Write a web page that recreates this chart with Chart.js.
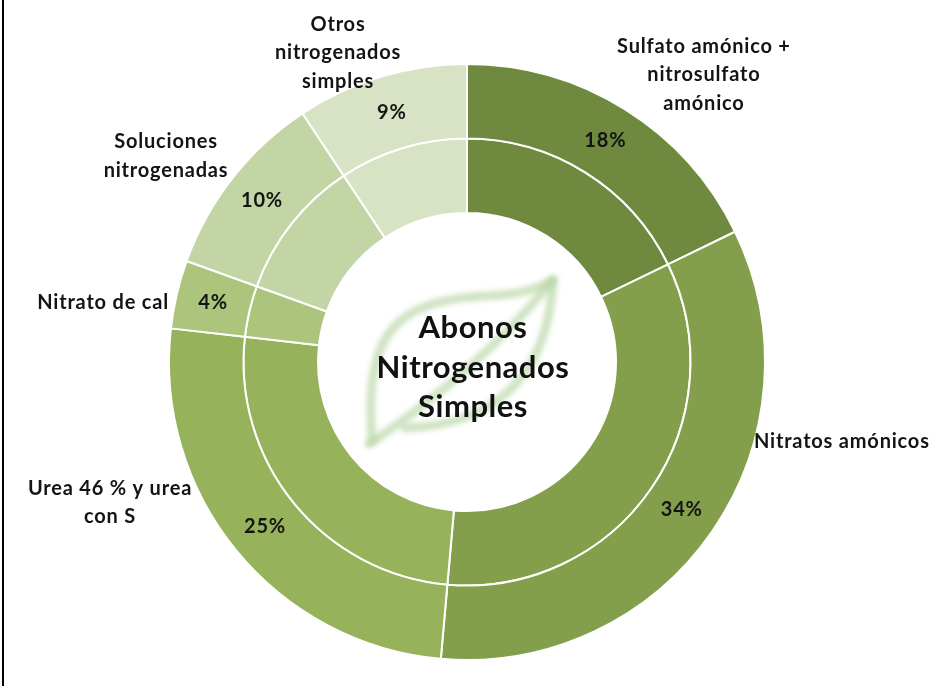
<!DOCTYPE html>
<html>
<head>
<meta charset="utf-8">
<script src="https://cdn.jsdelivr.net/npm/chart.js@4.4.1/dist/chart.umd.min.js"></script>
<style>
  html, body { margin: 0; padding: 0; background: #fff; }
  #wrap { position: relative; width: 937px; height: 686px; }
  #frame { position: absolute; left: 2px; top: 0; width: 2px; height: 686px; background: #000; }
  canvas { display: block; }
</style>
</head>
<body>
<div id="wrap">
  <canvas id="c" width="937" height="686"></canvas>
  <div id="frame"></div>
</div>
<script>
// ---- Data ----
const categories = [
  'Sulfato amónico + nitrosulfato amónico',
  'Nitratos amónicos',
  'Urea 46 % y urea con S',
  'Nitrato de cal',
  'Soluciones nitrogenadas',
  'Otros nitrogenados simples'
];
const categoryLines = [
  ['Sulfato amónico +', 'nitrosulfato', 'amónico'],
  ['Nitratos amónicos'],
  ['Urea 46 % y urea', 'con S'],
  ['Nitrato de cal'],
  ['Soluciones', 'nitrogenadas'],
  ['Otros', 'nitrogenados', 'simples']
];
// shares (%); labels show them rounded
const shares = [17.8, 33.6, 25.4, 3.7, 10.2, 9.3];
const centerTitle = ['Abonos', 'Nitrogenados', 'Simples'];

// ---- Styles / layout ----
const sliceColors = ['#6F8A3F', '#839F4B', '#96B25A', '#ACC47B', '#C3D4A5', '#D8E2C5'];
// label anchor offsets relative to chart centre, in units of the outer radius
const labelOffsets = [
  [0.795, -0.963],
  [1.258, 0.268],
  [-1.198, 0.471],
  [-1.221, -0.198],
  [-1.010, -0.691],
  [-0.433, -1.037]
];
const FONT = 'Lato, "Open Sans", "DejaVu Sans", sans-serif';

const labelPlugin = {
  id: 'labels',
  afterDatasetsDraw(chart) {
    const ctx = chart.ctx;
    const arcs = chart.getDatasetMeta(0).data;
    if (!arcs.length) return;
    const cx = arcs[0].x, cy = arcs[0].y, R = arcs[0].outerRadius;
    ctx.save();
    ctx.fillStyle = '#141414';
    ctx.textAlign = 'center';
    ctx.textBaseline = 'middle';
    ctx.letterSpacing = '0.8px';
    ctx.font = 'bold 20px ' + FONT;
    arcs.forEach((arc, i) => {
      const p = arc.tooltipPosition();
      ctx.fillText(Math.round(shares[i]) + '%', p.x, p.y);
    });
    const lh = 28.5;
    categoryLines.forEach((lines, i) => {
      const ax = cx + labelOffsets[i][0] * R;
      const ay = cy + labelOffsets[i][1] * R;
      const y0 = ay - (lines.length - 1) * lh / 2;
      lines.forEach((t, k) => ctx.fillText(t, ax, y0 + k * lh));
    });
    ctx.restore();
  }
};

const centerPlugin = {
  id: 'center',
  afterDatasetsDraw(chart) {
    const ctx = chart.ctx;
    const arcs = chart.getDatasetMeta(0).data;
    if (!arcs.length) return;
    const cx = arcs[0].x, cy = arcs[0].y, R = arcs[0].outerRadius;
    const s = R / 298;
    // faint leaf logo
    ctx.save();
    ctx.translate(cx, cy);
    ctx.scale(s, s);
    ctx.filter = 'blur(2.5px)';
    ctx.strokeStyle = 'rgba(175, 210, 155, 0.6)';
    ctx.lineWidth = 9;
    ctx.lineCap = 'round';
    ctx.lineJoin = 'round';
    ctx.beginPath();
    ctx.moveTo(-95, 78);
    ctx.bezierCurveTo(-102, -20, -80, -62, 20, -66);
    ctx.quadraticCurveTo(65, -68, 86, -82);
    ctx.bezierCurveTo(82, -10, 50, 62, -62, 66);
    ctx.stroke();
    ctx.beginPath();
    ctx.moveTo(-98, 82);
    ctx.quadraticCurveTo(10, 10, 86, -82);
    ctx.stroke();
    ctx.restore();

    ctx.save();
    ctx.fillStyle = '#111';
    ctx.textAlign = 'center';
    ctx.textBaseline = 'middle';
    ctx.letterSpacing = '0.5px';
    ctx.font = 'bold 31px ' + FONT;
    const lh = 39.5;
    centerTitle.forEach((t, k) => ctx.fillText(t, cx + 6, cy - 34 + k * lh));
    ctx.restore();
  }
};

new Chart(document.getElementById('c'), {
  type: 'doughnut',
  data: {
    labels: categories,
    datasets: [
      { data: shares, backgroundColor: sliceColors, borderColor: '#ffffff', borderWidth: 2, hoverOffset: 0 },
      { data: shares, backgroundColor: sliceColors, borderColor: '#ffffff', borderWidth: 2, hoverOffset: 0 }
    ]
  },
  options: {
    responsive: false,
    animation: false,
    cutout: '50%',
    layout: { padding: { top: 63, bottom: 25, left: 0, right: 3 } },
    plugins: {
      legend: { display: false },
      tooltip: { enabled: false }
    }
  },
  plugins: [centerPlugin, labelPlugin]
});
</script>
</body>
</html>
